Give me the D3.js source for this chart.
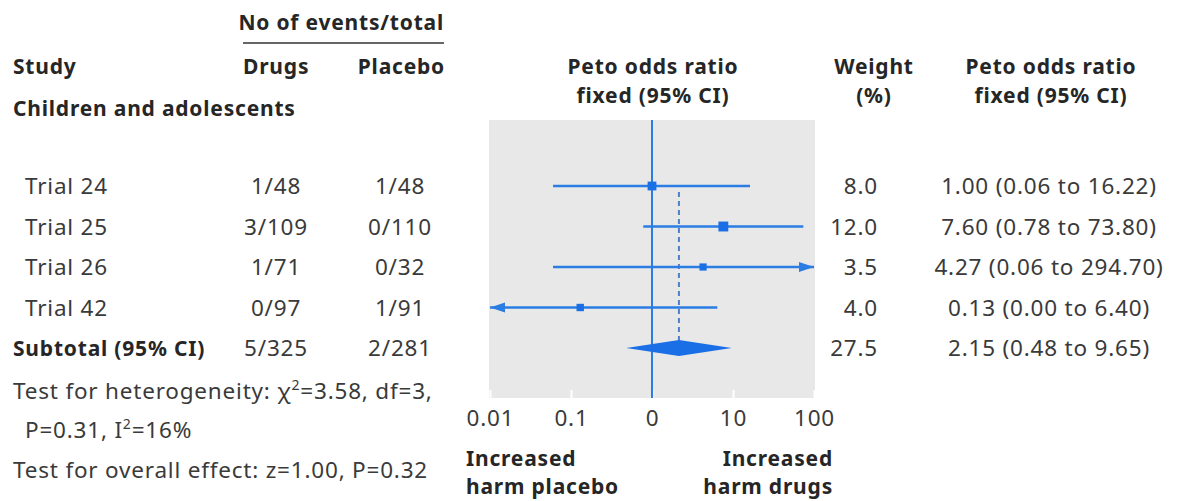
<!DOCTYPE html>
<html>
<head>
<meta charset="utf-8">
<script src="https://cdn.jsdelivr.net/npm/d3@7"></script>
<style>
  body { margin: 0; background: #fff; }
  svg { display: block; font-family: "Noto Sans", "Open Sans", sans-serif; }
  .bold { font-weight: 700; fill: #262626; font-size: 21px; letter-spacing: 0.8px; }
  .txt { fill: #3a3a3a; font-size: 22.5px; letter-spacing: 0.8px; }
</style>
</head>
<body>
<svg id="chart" width="1177" height="501"></svg>
<script>
  // study rows
  var studies = ['Trial 24', 'Trial 25', 'Trial 26', 'Trial 42'];
  var drugEvents = ['1/48', '3/109', '1/71', '0/97'];
  var placeboEvents = ['1/48', '0/110', '0/32', '1/91'];
  var weights = [8.0, 12.0, 3.5, 4.0];
  var oddsRatios = [1.00, 7.60, 4.27, 0.13];
  var ciLow = [0.06, 0.78, 0.06, 0.00];
  var ciHigh = [16.22, 73.80, 294.70, 6.40];

  // pooled row
  var subtotalLabel = 'Subtotal (95% CI)';
  var subtotalEvents = ['5/325', '2/281'];
  var subtotalWeight = [27.5];
  var subtotalOR = [2.15, 0.48, 9.65];

  // axis
  var tickValues = [0.01, 0.1, 1, 10, 100];
  var tickLabels = ['0.01', '0.1', '0', '10', '100'];

  var blue = '#2b7de3';
  var fill = '#1a6fe6';

  var svg = d3.select('#chart');

  var x = d3.scaleLog().domain([0.01, 100]).range([490, 814]);
  var y = d3.scalePoint().domain(studies.concat([subtotalLabel])).range([186, 348]);
  var fmt1 = d3.format('.1f'), fmt2 = d3.format('.2f');

  // square side grows with weight
  function side(w) { return 4 + 1.7 * Math.sqrt(w); }

  function text(parent, str, tx, ty, cls, anchor) {
    return parent.append('text')
      .attr('x', tx).attr('y', ty)
      .attr('class', cls)
      .attr('text-anchor', anchor || 'start')
      .text(str);
  }

  // headers
  text(svg, 'No of events/total', 444, 30, 'bold', 'end');
  svg.append('line')
    .attr('x1', 243).attr('x2', 444).attr('y1', 43).attr('y2', 43)
    .attr('stroke', '#333').attr('stroke-width', 1.5);
  text(svg, 'Study', 13, 74, 'bold');
  text(svg, 'Drugs', 243, 74, 'bold');
  text(svg, 'Placebo', 445, 74, 'bold', 'end');
  text(svg, 'Peto odds ratio', 653, 74, 'bold', 'middle');
  text(svg, 'fixed (95% CI)', 653, 103, 'bold', 'middle');
  text(svg, 'Weight', 874, 74, 'bold', 'middle');
  text(svg, '(%)', 874, 103, 'bold', 'middle');
  text(svg, 'Peto odds ratio', 1051, 74, 'bold', 'middle');
  text(svg, 'fixed (95% CI)', 1051, 103, 'bold', 'middle');
  text(svg, 'Children and adolescents', 13, 116, 'bold');

  // plot panel
  svg.append('rect')
    .attr('x', 489).attr('y', 120).attr('width', 326).attr('height', 278)
    .attr('fill', '#e8e8e8');

  var axis = d3.axisBottom(x)
    .tickValues(tickValues)
    .tickFormat(function (d, i) { return tickLabels[i]; })
    .tickSizeInner(-8).tickSizeOuter(0).tickPadding(12);
  var gAxis = svg.append('g').attr('transform', 'translate(0,398)').call(axis);
  gAxis.select('.domain').remove();
  gAxis.selectAll('.tick line').attr('stroke', '#fff').attr('stroke-width', 2);
  gAxis.selectAll('.tick text')
    .attr('class', 'txt')
    .attr('fill', null)
    .style('font-family', '"Noto Sans", sans-serif');
  gAxis.attr('font-size', null);

  // line of no effect
  svg.append('line')
    .attr('x1', x(1)).attr('x2', x(1)).attr('y1', 120).attr('y2', 398)
    .attr('stroke', blue).attr('stroke-width', 2);

  // pooled estimate dashed line
  svg.append('line')
    .attr('x1', x(subtotalOR[0])).attr('x2', x(subtotalOR[0]))
    .attr('y1', y(studies[0]) + 6).attr('y2', y(subtotalLabel) - 7)
    .attr('stroke', '#4f7fc4').attr('stroke-width', 2)
    .attr('stroke-dasharray', '5,4');

  var rows = studies.map(function (s, i) {
    return { name: s, drugs: drugEvents[i], placebo: placeboEvents[i], w: weights[i],
      or: oddsRatios[i], lo: ciLow[i], hi: ciHigh[i] };
  });

  var dmin = x.domain()[0], dmax = x.domain()[1];

  var g = svg.selectAll('g.row').data(rows).enter()
    .append('g').attr('class', 'row');

  g.append('line')
    .attr('x1', function (d) { return x(Math.max(d.lo, dmin)); })
    .attr('x2', function (d) { return x(Math.min(d.hi, dmax)); })
    .attr('y1', function (d) { return y(d.name); })
    .attr('y2', function (d) { return y(d.name); })
    .attr('stroke', blue).attr('stroke-width', 2.7);

  // arrows where the CI runs off the scale
  g.filter(function (d) { return d.hi > dmax; }).append('path')
    .attr('d', function (d) {
      var tx = x(dmax), ty = y(d.name);
      return 'M' + tx + ',' + ty + 'L' + (tx - 15) + ',' + (ty - 5) + 'L' + (tx - 15) + ',' + (ty + 5) + 'Z';
    })
    .attr('fill', blue);
  g.filter(function (d) { return d.lo < dmin; }).append('path')
    .attr('d', function (d) {
      var tx = x(dmin), ty = y(d.name);
      return 'M' + tx + ',' + ty + 'L' + (tx + 15) + ',' + (ty - 5) + 'L' + (tx + 15) + ',' + (ty + 5) + 'Z';
    })
    .attr('fill', blue);

  g.append('rect')
    .attr('x', function (d) { return x(d.or) - side(d.w) / 2; })
    .attr('y', function (d) { return y(d.name) - side(d.w) / 2; })
    .attr('width', function (d) { return side(d.w); })
    .attr('height', function (d) { return side(d.w); })
    .attr('fill', fill);

  g.each(function (d) {
    var el = d3.select(this), ty = y(d.name) + 8;
    text(el, d.name, 25, ty, 'txt');
    text(el, d.drugs, 276, ty, 'txt', 'middle');
    text(el, d.placebo, 400, ty, 'txt', 'middle');
    text(el, fmt1(d.w), 878, ty, 'txt', 'end');
    text(el, fmt2(d.or) + ' (' + fmt2(d.lo) + ' to ' + fmt2(d.hi) + ')', 1049, ty, 'txt', 'middle');
  });

  // subtotal diamond
  var sy = y(subtotalLabel);
  svg.append('path')
    .attr('d', 'M' + x(subtotalOR[1]) + ',' + sy +
      'L' + x(subtotalOR[0]) + ',' + (sy - 8) +
      'L' + x(subtotalOR[2]) + ',' + sy +
      'L' + x(subtotalOR[0]) + ',' + (sy + 8) + 'Z')
    .attr('fill', fill);

  text(svg, subtotalLabel, 13, sy + 8, 'bold');
  text(svg, subtotalEvents[0], 276, sy + 8, 'txt', 'middle');
  text(svg, subtotalEvents[1], 400, sy + 8, 'txt', 'middle');
  text(svg, fmt1(subtotalWeight[0]), 878, sy + 8, 'txt', 'end');
  text(svg, fmt2(subtotalOR[0]) + ' (' + fmt2(subtotalOR[1]) + ' to ' + fmt2(subtotalOR[2]) + ')', 1049, sy + 8, 'txt', 'middle');

  // test statistics
  var het = text(svg, 'Test for heterogeneity: \u03c7', 13, 399, 'txt');
  het.append('tspan').attr('dy', -9).style('font-size', '14px').text('2');
  het.append('tspan').attr('dy', 9).text('=3.58, df=3,');
  var het2 = text(svg, 'P=0.31, I', 25, 438, 'txt');
  het2.append('tspan').attr('dy', -9).style('font-size', '14px').text('2');
  het2.append('tspan').attr('dy', 9).text('=16%');
  text(svg, 'Test for overall effect: z=1.00, P=0.32', 13, 478, 'txt');

  // direction labels
  text(svg, 'Increased', 466, 466, 'bold');
  text(svg, 'harm placebo', 466, 494, 'bold');
  text(svg, 'Increased', 833, 466, 'bold', 'end');
  text(svg, 'harm drugs', 833, 494, 'bold', 'end');
</script>
</body>
</html>
